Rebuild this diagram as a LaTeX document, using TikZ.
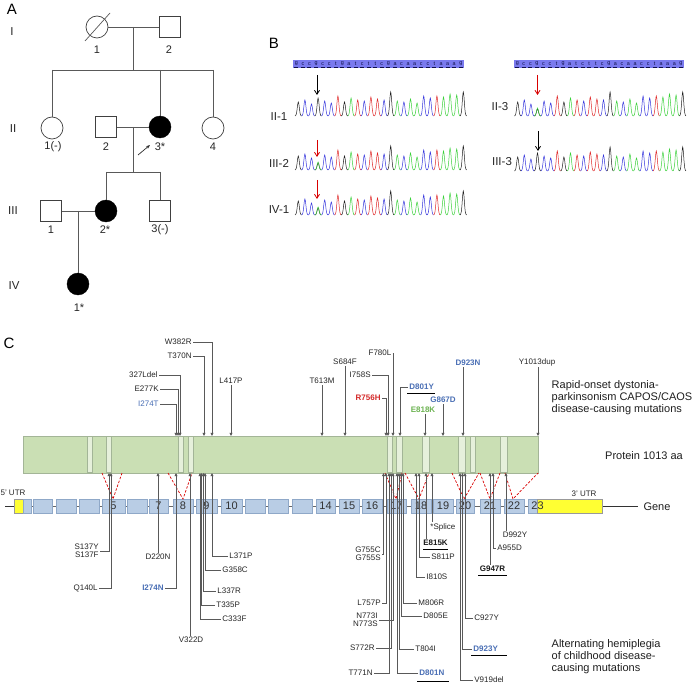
\documentclass[tikz,border=0pt]{standalone}
\usepackage{fontspec}
\setmainfont{Liberation Sans}
\usetikzlibrary{arrows.meta}
\definecolor{mblue}{HTML}{4A6FB5}
\definecolor{mred}{HTML}{D42A2A}
\definecolor{mgreen}{HTML}{6DB352}
\definecolor{protfill}{HTML}{CADFB4}
\definecolor{protdraw}{HTML}{A3B597}
\definecolor{bandfill}{HTML}{E6F0DB}
\definecolor{exfill}{HTML}{B9CDE5}
\definecolor{exdraw}{HTML}{8FA8C8}
\definecolor{utr}{HTML}{FFFF33}
\definecolor{seqbar}{HTML}{7A7AEE}
\definecolor{seqtxt}{HTML}{10104A}
\definecolor{cola}{HTML}{3BD13B}
\definecolor{colc}{HTML}{3535DD}
\definecolor{colg}{HTML}{202020}
\definecolor{colt}{HTML}{E02828}
\newcommand{\chromrow}[3]{%
\foreach \b/\h [count=\i from 0] in {g/14,c/16,c/12,g/18,c/15,c/13,t/20,g/14,a/18,t/16,c/15,t/19,t/17,c/16,g/24,a/15,c/14,a/17,a/13,c/20,c/18,t/20,a/19,a/22,a/21,g/24}{%
  \pgfmathsetmacro{\xc}{#1+\i*6.6}%
  \ifnum\i=3 \ifnum#3=1 \def\hh{7}\else\let\hh\h\fi\else\let\hh\h\fi
  \draw[color=col\b, line width=0.5pt] plot[domain=-3.3:3.3, samples=11, smooth] ({\xc+\x},{#2-\hh*exp(-0.5*(\x)*(\x))});
}%
\ifnum#3=1 \draw[color=cola, line width=0.5pt] plot[domain=-3.3:3.3, samples=11, smooth] ({#1+19.8+\x},{#2-8*exp(-0.5*(\x)*(\x))});\fi
}
\begin{document}
\begin{tikzpicture}[x=1pt,y=-1pt,
  pl/.style={draw=black!65, line width=0.7pt},
  fem/.style={circle, draw=black!75, line width=0.7pt, fill=white, minimum size=22pt, inner sep=0pt},
  aff/.style={circle, draw=black, fill=black, minimum size=22pt, inner sep=0pt},
  mal/.style={rectangle, draw=black!75, line width=0.7pt, fill=white, minimum size=21pt, inner sep=0pt},
  pedtxt/.style={font=\fontsize{11}{12}\selectfont, text=black!85, inner sep=0.5pt},
  gentxt/.style={font=\fontsize{11.5}{12}\selectfont, text=black!85, inner sep=0.5pt},
  panel/.style={font=\fontsize{15}{16}\selectfont, inner sep=0pt},
  lab/.style={font=\fontsize{8}{8}\selectfont, text=black!85, inner sep=1.2pt},
  labb/.style={font=\fontsize{8}{8}\selectfont\bfseries, text=black!90, inner sep=1.2pt},
  txt/.style={font=\fontsize{11}{12}\selectfont, text=black!88, inner sep=0.5pt, align=left},
  small/.style={font=\fontsize{8}{9}\selectfont, text=black!85, inner sep=0.5pt},
  seqch/.style={font=\fontsize{5.4}{6}\selectfont, text=seqtxt, inner sep=0pt},
  ml/.style={draw=black!65, line width=0.6pt},
  tip/.style={ml, -{Triangle[length=3.2pt,width=3pt]}},
  vline/.style={draw=red!85!black, dash pattern=on 2.5pt off 1.6pt, line width=0.7pt},
  exon/.style={rectangle, draw=exdraw, fill=exfill, line width=0.5pt, minimum height=14pt, inner sep=0pt, font=\fontsize{11}{12}\selectfont, text=black!80},
  utrbox/.style={rectangle, draw=black!40, fill=utr, line width=0.5pt, minimum height=14pt, inner sep=0pt},
  band/.style={draw=protdraw, fill=bandfill, line width=0.5pt},
  ulin/.style={draw=black, line width=0.8pt},
  sarrow/.style={line width=0.8pt, -{Straight Barb[length=4pt,width=5pt]}}
]
\fill[white] (0,0) rectangle (694,687);
\useasboundingbox (0,0) rectangle (694,687);

% ---------------- Panel A: pedigree ----------------
\node[panel] (pA) at (12,9) {A};
\node[gentxt] (gI) at (12,32) {I};
\node[gentxt] (gII) at (13,129) {II};
\node[gentxt] (gIII) at (13,211) {III};
\node[gentxt] (gIV) at (14,286) {IV};

\node[fem] (p11) at (97,27) {};
\node[mal] (p12) at (170,27) {};
\draw[pl] (85,41) -- (110,13);
\draw[pl] (p11.east) -- (p12.west);
\coordinate (c1) at (133,27);
\coordinate (s1) at (133,70);
\draw[pl] (c1) -- (s1);
\node[fem] (p21) at (52,128) {};
\node[mal] (p22) at (106,127) {};
\node[aff] (p23) at (160,127) {};
\node[fem] (p24) at (213,128) {};
\coordinate (s1l) at (52,70);
\coordinate (s1r) at (213,70);
\draw[pl] (s1l) -- (s1r);
\draw[pl] (s1l) -- (p21.north);
\draw[pl] (160,70) -- (p23.north);
\draw[pl] (s1r) -- (p24.north);
\draw[pl] (p22.east) -- (p23.west);
\coordinate (c2) at (133,127);
\coordinate (s2) at (133,172);
\draw[pl] (c2) -- (s2);
\node[mal] (p31) at (51,211) {};
\node[aff] (p32) at (106,211) {};
\node[mal] (p33) at (160,211) {};
\coordinate (s2l) at (106,172);
\coordinate (s2r) at (160,172);
\draw[pl] (s2l) -- (s2r);
\draw[pl] (s2l) -- (p32.north);
\draw[pl] (s2r) -- (p33.north);
\draw[pl] (p31.east) -- (p32.west);
\node[aff] (p41) at (78,284) {};
\coordinate (c3) at (78,211);
\draw[pl] (c3) -- (p41.north);
\coordinate (pa1) at (138,155);
\coordinate (pa2) at (150,145);
\draw[draw=black!85, line width=0.7pt, -{Stealth[length=4pt,width=3pt]}] (pa1) -- (pa2);

\node[pedtxt] (l11) at (97,50) {1};
\node[pedtxt] (l12) at (169,50) {2};
\node[pedtxt] (l21) at (53,147) {1(-)};
\node[pedtxt] (l22) at (106,147) {2};
\node[pedtxt] (l23) at (160,147) {3*};
\node[pedtxt] (l24) at (213,147) {4};
\node[pedtxt] (l31) at (51,230) {1};
\node[pedtxt] (l32) at (105,230) {2*};
\node[pedtxt] (l33) at (160,230) {3(-)};
\node[pedtxt] (l41) at (79,308) {1*};

% ---------------- Panel B: chromatograms ----------------
\node[panel] (pB) at (274,43) {B};
\fill[seqbar] (293,60.5) rectangle (464,68.5);
\fill[seqbar] (514,60.5) rectangle (684,68.5);
\foreach \ch [count=\i from 0] in {g,c,c,g,c,c,t,g,a,t,c,t,t,c,g,a,c,a,a,c,c,t,a,a,a,g}{
  \node[seqch] (sqL\i) at (296.3+\i*6.58,63.8) {\ch};
  \node[seqch] (sqR\i) at (517.3+\i*6.54,63.8) {\ch};
  \draw[seqtxt, line width=0.35pt] (294.3+\i*6.58,67.2) -- (298.3+\i*6.58,67.2);
  \draw[seqtxt, line width=0.35pt] (515.3+\i*6.54,67.2) -- (519.3+\i*6.54,67.2);
}
\chromrow{298.3}{116}{0}
\chromrow{298.3}{170}{1}
\chromrow{298.3}{215}{1}
\chromrow{517.7}{116}{1}
\chromrow{517.7}{171}{0}
\node[gentxt] (b21) at (279,117) {II-1};
\node[gentxt] (b32) at (279,163) {III-2};
\node[gentxt] (b41) at (279,210) {IV-1};
\node[gentxt] (b23) at (500,107) {II-3};
\node[gentxt] (b33) at (502,162) {III-3};
\coordinate (ar1a) at (317,75); \coordinate (ar1b) at (317,95);
\coordinate (ar2a) at (317,140); \coordinate (ar2b) at (317,157);
\coordinate (ar3a) at (317,180); \coordinate (ar3b) at (317,199);
\coordinate (ar4a) at (537.5,75); \coordinate (ar4b) at (537.5,95);
\coordinate (ar5a) at (538,131); \coordinate (ar5b) at (538,151);
\draw[sarrow, black] (ar1a) -- (ar1b);
\draw[sarrow, red!85!black] (ar2a) -- (ar2b);
\draw[sarrow, red!85!black] (ar3a) -- (ar3b);
\draw[sarrow, red!85!black] (ar4a) -- (ar4b);
\draw[sarrow, black] (ar5a) -- (ar5b);

% ---------------- Panel C ----------------
\node[panel] (pC) at (9,343) {C};
\node[rectangle, draw=protdraw, fill=protfill, line width=0.6pt, minimum width=515pt, minimum height=37pt, inner sep=0pt] (prot) at (280.5,454.5) {};
\foreach \l/\w in {87/5,106/5,178/5,188/5,387.3/5,396.7/5.3,422.7/6.3,458.7/6.3,470.7/4.3,500/7.3}{
  \draw[band] (\l,436.3) rectangle (\l+\w,472.7);
}

% gene
\draw[draw=black!80, line width=0.9pt] (5,506) -- (14,506);
\draw[draw=black!60, line width=0.8pt] (31,506) -- (528,506);
\draw[draw=black!80, line width=0.9pt] (602,506) -- (638,506);
\node[utrbox, minimum width=9pt] (e1u) at (18.5,506) {};
\node[exon, minimum width=8pt] (e1) at (27,506) {};
\foreach \n/\l/\r/\t in {2/33/52/{},3/56/76/{},4/79/99/{},5/102/125/5,6/127/147/{},7/149/168/7,8/173/193/8,9/196/217/9,10/221/242/10,11/245/265/{},12/268/288/{},13/292/312/{},14/316/335/14,15/339/359/15,16/362/382/16,17/387/406/17,18/411/431/18,19/433/453/19,20/456/474/20,21/480/500/21,22/504/524/22}{
  \pgfmathsetmacro{\w}{\r-\l}
  \pgfmathsetmacro{\c}{(\l+\r)/2}
  \node[exon, minimum width=\w pt] (e\n) at (\c,506) {\t};
}
\node[exon, minimum width=9pt] (e23) at (532.5,506) {};
\node[utrbox, minimum width=65pt] (e23u) at (569.5,506) {};
\node[font=\fontsize{11}{12}\selectfont, text=black!80, inner sep=0pt] (x23) at (537.5,506) {23};
\node[small] (utr5) at (13,493) {5' UTR};
\node[small] (utr3) at (584,494) {3' UTR};
\node[txt] (genelab) at (657,507) {Gene};
\node[txt] (protlab) at (644,456) {Protein 1013 aa};

% red dashed V lines
\draw[vline] (102,473) -- (113,499) -- (122,473);
\draw[vline] (168,473) -- (183,499) -- (192,473);
\draw[vline] (385,473) -- (396,499) -- (402,473);
\draw[vline] (405,473) -- (419,499) -- (429,473);
\draw[vline] (452,473) -- (464,499) -- (479,473);
\draw[vline] (480,473) -- (490,499) -- (500,473);
\draw[vline] (505,473) -- (513,499) -- (538,473);

% top mutations (CAPOS / RDP)
\node[lab, anchor=east] (w382) at (193,342) {W382R};
\node[lab, anchor=east] (t370) at (193,356) {T370N};
\node[lab, anchor=east] (l327) at (159,375) {327Ldel};
\node[lab, anchor=east] (e277) at (160,389) {E277K};
\node[lab, anchor=east, text=mblue] (i274t) at (160,404) {I274T};
\node[lab] (l417) at (231,381) {L417P};
\node[lab] (t613) at (322,381) {T613M};
\node[lab] (s684) at (345,362) {S684F};
\node[lab] (f780) at (380,353) {F780L};
\node[lab, anchor=east] (i758) at (372,375) {I758S};
\node[labb, anchor=east, text=mred] (r756) at (382,398) {R756H};
\node[labb, anchor=west, text=mblue] (d801y) at (408,387) {D801Y};
\node[labb, text=mgreen] (e818) at (423,410) {E818K};
\node[labb, text=mblue] (g867) at (443,400) {G867D};
\node[labb, text=mblue] (d923n) at (468,363) {D923N};
\node[lab] (y1013) at (537,362) {Y1013dup};
\draw[tip] (w382.east) -| (212,436);
\draw[tip] (t370.east) -| (204,436);
\draw[tip] (l327.east) -| (180,436);
\draw[tip] (e277.east) -| (178,436);
\draw[tip] (i274t.east) -| (176,436);
\draw[tip] (l417.south) -- (231,436);
\draw[tip] (t613.south) -- (322,436);
\draw[tip] (s684.south) -- (345,436);
\draw[tip] (f780.east) -| (393,436);
\draw[tip] (i758.east) -| (388,436);
\draw[tip] (r756.east) -| (386,436);
\draw[tip] (d801y.west) -| (400,436);
\draw[tip] ([xshift=2pt]e818.south) -- (425,436);
\draw[tip] (g867.south) -- (443,436);
\draw[tip] ([xshift=-5pt]d923n.south) -- (463,436);
\draw[tip] ([xshift=1pt]y1013.south) -- (538,436);
\draw[ulin] (407,393.5) -- (435,393.5);
\node[txt, anchor=west] (capos) at (551,398) {Rapid-onset dystonia-\\parkinsonism CAPOS/CAOS\\disease-causing mutations};

% bottom mutations (AHC)
\node[lab, anchor=east, align=right] (s137) at (100,551) {S137Y\\S137F};
\node[lab, anchor=east] (q140) at (99,588) {Q140L};
\node[lab] (d220) at (158,557) {D220N};
\node[labb, anchor=east, text=mblue] (i274n) at (165,588) {I274N};
\node[lab] (v322) at (191,640) {V322D};
\node[lab, anchor=west] (c333) at (221,619) {C333F};
\node[lab, anchor=west] (t335) at (215,605) {T335P};
\node[lab, anchor=west] (l337) at (216,591) {L337R};
\node[lab, anchor=west] (g358) at (221,570) {G358C};
\node[lab, anchor=west] (l371) at (228,556) {L371P};
\draw[tip] (s137.east) -| (109,473);
\draw[tip] (q140.east) -| (111,473);
\draw[tip] (d220.north) -- (158,473);
\draw[tip] (i274n.east) -| (176,473);
\draw[tip] ([xshift=-1pt]v322.north) -- (190,473);
\draw[tip] (c333.west) -| (200,473);
\draw[tip] (t335.west) -| (201.7,473);
\draw[tip] (l337.west) -| (203.4,473);
\draw[tip] (g358.west) -| (205.1,473);
\draw[tip] (l371.west) -| (212,473);

\node[lab, anchor=east, align=right] (g755) at (382,554) {G755C\\G755S};
\node[lab, anchor=east] (l757) at (382,603) {L757P};
\node[lab, anchor=east, align=right] (n773) at (379,620) {N773I\\N773S};
\node[lab, anchor=east] (s772) at (376,648) {S772R};
\node[lab, anchor=east] (t771) at (374,673) {T771N};
\node[labb, anchor=west, text=mblue] (d801n) at (418,673) {D801N};
\node[lab, anchor=west] (t804) at (414,649) {T804I};
\node[lab, anchor=west] (d805) at (422,616) {D805E};
\node[lab, anchor=west] (m806) at (417,603) {M806R};
\draw[tip] (g755.east) -| (383.5,473);
\draw[tip] (l757.east) -| (386,473);
\draw[tip] (n773.east) -| (393,473);
\draw[tip] (s772.east) -| (391,473);
\draw[tip] (t771.east) -| (389,473);
\draw[tip] (d801n.west) -| (397,473);
\draw[tip] (t804.west) -| (399,473);
\draw[tip] (d805.west) -| (401,473);
\draw[tip] (m806.west) -| (403,473);
\draw[ulin] (417,681.5) -- (449,681.5);

\node[lab, anchor=west] (i810) at (425,577) {I810S};
\node[lab, anchor=west] (s811) at (430,557) {S811P};
\node[labb] (e815) at (435.5,543) {E815K};
\node[lab, anchor=west] (splice) at (429,527) {*Splice};
\draw[tip] (i810.west) -| (416,473);
\draw[tip] (s811.west) -| (419,473);
\draw[tip] ([xshift=-9.5pt]e815.north) -- (426,473);
\draw[tip] ([xshift=3pt]splice.north west) -- (432,473);
\draw[ulin] (423,549.5) -- (448,549.5);

\node[lab, anchor=west] (v919) at (473,680) {V919del};
\node[labb, anchor=west, text=mblue] (d923y) at (472,649) {D923Y};
\node[lab, anchor=west] (c927) at (473,618) {C927Y};
\draw[tip] (v919.west) -| (460,473);
\draw[tip] (d923y.west) -| (462.5,473);
\draw[tip] (c927.west) -| (465,473);
\draw[ulin] (471,655.5) -- (507,655.5);

\node[labb] (g947) at (492.5,569) {G947R};
\node[lab, anchor=west] (a955) at (496,548) {A955D};
\node[lab] (d992) at (515,535) {D992Y};
\draw[tip] ([xshift=-2.5pt]g947.north) -- (490,473);
\draw[tip] (a955.west) -| (493,473);
\draw[tip] ([xshift=-9pt]d992.north) -- (506,473);
\draw[ulin] (478,575.5) -- (507,575.5);

\node[txt, anchor=west] (ahc) at (551,657) {Alternating hemiplegia\\of childhood disease-\\causing mutations};
\end{tikzpicture}
\end{document}
